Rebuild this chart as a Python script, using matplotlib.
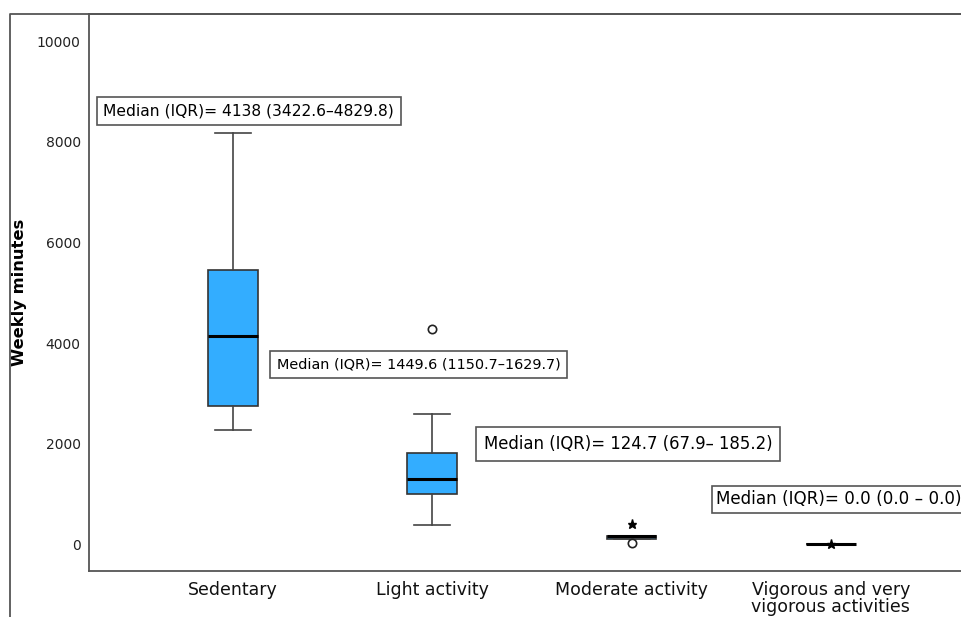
"""Boxplot of weekly minutes by activity intensity (SPSS style)."""

import matplotlib
matplotlib.use("Agg")
import matplotlib.pyplot as plt
from matplotlib.lines import Line2D

categories = ["Sedentary", "Light activity", "Moderate activity",
              "Vigorous and very\nvigorous activities"]
whisker_low = [2270, 380, 100, 0]
q1 = [2750, 1000, 100, 0]
medians = [4140, 1285, 150, 0]
q3 = [5450, 1815, 165, 0]
whisker_high = [8170, 2580, 165, 0]
circle_outliers = [[], [4280], [20], []]
star_outliers = [[], [], [390], [0]]

labels = [
    "Median (IQR)= 4138 (3422.6\u20134829.8)",
    "Median (IQR)= 1449.6 (1150.7\u20131629.7)",
    "Median (IQR)= 124.7 (67.9\u2013 185.2)",
    "Median (IQR)= 0.0 (0.0 \u2013 0.0)",
]

# annotation layout (text anchor in data coords, font size, box padding)
label_x = [0.350, 1.219, 2.259, 3.425]
label_y = [8617, 3572, 1990, 886]
label_size = [11.15, 10.4, 11.9, 12.1]
label_pad = [0.43, 0.46, 0.48, 0.26]

positions = list(range(1, len(categories) + 1))
stats = []
for i, name in enumerate(categories):
    stats.append({
        "label": name,
        "whislo": whisker_low[i],
        "q1": q1[i],
        "med": medians[i],
        "q3": q3[i],
        "whishi": whisker_high[i],
        "fliers": circle_outliers[i],
    })

fig = plt.figure(figsize=(9.61, 6.17), dpi=100)
ax = fig.add_axes([89 / 961, 46 / 617, 1 - 89 / 961, (571 - 14) / 617])

edge = "#333333"
ax.bxp(
    stats,
    positions=positions,
    widths=0.25,
    patch_artist=True,
    boxprops=dict(facecolor="#33adff", edgecolor=edge, linewidth=1.2),
    medianprops=dict(color="black", linewidth=2.2),
    whiskerprops=dict(color="#444444", linewidth=1.2),
    capprops=dict(color="#444444", linewidth=1.2),
    flierprops=dict(marker="o", markerfacecolor="white", markeredgecolor="#222222",
                    markersize=6, markeredgewidth=1.2),
    capwidths=0.18,
)

for pos, vals in zip(positions, star_outliers):
    if vals:
        ax.plot([pos] * len(vals), vals, linestyle="none", marker="*",
                color="black", markersize=6.5)

for text, x, y, size, pad in zip(labels, label_x, label_y, label_size, label_pad):
    ax.text(x, y, text, ha="left", va="center", fontsize=size, color="black",
            bbox=dict(boxstyle=f"square,pad={pad}", facecolor="white",
                      edgecolor="#555555", linewidth=1.2))

ax.set_xlim(0.2775, 4.653)
ax.set_ylim(-537, 10547)
ax.set_yticks([0, 2000, 4000, 6000, 8000, 10000])
ax.set_xticks(positions)
ax.set_xticklabels(categories, fontsize=12.5, linespacing=0.95)
ax.tick_params(axis="y", length=0, pad=6, labelsize=10, labelcolor="#222222")
ax.tick_params(axis="x", length=0, pad=7, labelcolor="#111111")
ax.set_ylabel("Weekly minutes", fontsize=11.8, fontweight="bold")
ax.yaxis.set_label_coords(-0.071, 0.5)

for side in ["left", "bottom", "top"]:
    ax.spines[side].set_color("#555555")
    ax.spines[side].set_linewidth(1.3)
ax.spines["right"].set_visible(False)

# outer frame (left and top edges of the SPSS chart area)
fig.add_artist(Line2D([10 / 961, 10 / 961, 1], [0, 1 - 14 / 617, 1 - 14 / 617],
                      transform=fig.transFigure, color="#555555", linewidth=1.3))

fig.savefig("out.png", dpi=100)
plt.close(fig)
